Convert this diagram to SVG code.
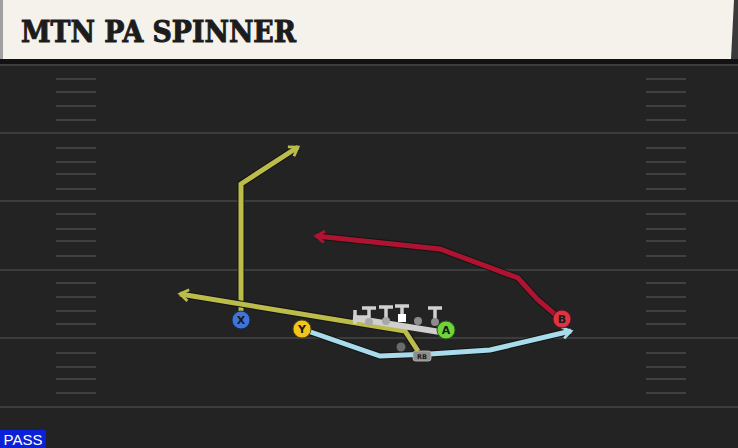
<svg xmlns="http://www.w3.org/2000/svg" width="738" height="448" viewBox="0 0 738 448">
<defs>
<style>
.yard{stroke:#3c3c3c;stroke-width:2}
.hash{stroke:#404040;stroke-width:2}
.route{fill:none;stroke-width:5;stroke-linejoin:miter;stroke-linecap:butt}
.under{fill:none;stroke:#141414;stroke-width:7;stroke-linejoin:miter}
.lbl{font-family:"DejaVu Sans","Liberation Sans",sans-serif;font-weight:bold;font-size:11px;fill:#1a1a1a;text-anchor:middle}
.ol{stroke:#d0d0d0;stroke-width:3.5;fill:none}
</style>
<marker id="ay" viewBox="0 0 10 10" refX="7" refY="5" markerWidth="2.8" markerHeight="2.8" orient="auto" markerUnits="strokeWidth">
<path d="M1,1 L7,5 L1,9" fill="none" stroke="#bcbc4a" stroke-width="2"/>
</marker>
<marker id="ar" viewBox="0 0 10 10" refX="7" refY="5" markerWidth="2.8" markerHeight="2.8" orient="auto" markerUnits="strokeWidth">
<path d="M1,1 L7,5 L1,9" fill="none" stroke="#ae1431" stroke-width="2"/>
</marker>
<marker id="ab" viewBox="0 0 10 10" refX="7" refY="5" markerWidth="2.8" markerHeight="2.8" orient="auto" markerUnits="strokeWidth">
<path d="M1,1 L7,5 L1,9" fill="none" stroke="#a8dcea" stroke-width="2"/>
</marker>
</defs>

<rect x="0" y="0" width="738" height="448" fill="#232323"/>

<g id="field">
<line class="yard" x1="0" y1="65" x2="738" y2="65"/>
<line class="yard" x1="0" y1="133" x2="738" y2="133"/>
<line class="yard" x1="0" y1="201" x2="738" y2="201"/>
<line class="yard" x1="0" y1="270" x2="738" y2="270"/>
<line class="yard" x1="0" y1="338" x2="738" y2="338"/>
<line class="yard" x1="0" y1="407" x2="738" y2="407"/>
<g class="hash">
<path d="M56,79H96M56,92H96M56,106H96M56,120H96M56,148H96M56,162H96M56,174H96M56,189H96M56,214H96M56,229H96M56,241H96M56,256H96M56,283H96M56,297H96M56,311H96M56,324H96M56,353H96M56,367H96M56,379H96M56,393H96"/>
<path d="M646,79H686M646,92H686M646,106H686M646,120H686M646,148H686M646,162H686M646,174H686M646,189H686M646,214H686M646,229H686M646,241H686M646,256H686M646,283H686M646,297H686M646,311H686M646,324H686M646,353H686M646,367H686M646,379H686M646,393H686"/>
</g>
</g>

<g id="header">
<rect x="0" y="59" width="738" height="5" fill="#121212"/>
<rect x="0" y="0" width="738" height="59" fill="#f4f2eb"/>
<rect x="0" y="0" width="3" height="59" fill="#a0a0a0"/>
<path d="M734,0 L738,0 L738,59 L731,59 Z" fill="#3a3a3a"/>
<text x="21" y="42" font-family="'DejaVu Serif','Liberation Serif',serif" font-weight="bold" font-size="29" fill="#1c1c1c" stroke="#1c1c1c" stroke-width="1" textLength="275" lengthAdjust="spacingAndGlyphs">MTN PA SPINNER</text>
</g>

<g id="connectors">
<polyline class="under" points="241,320 241,184 298,147"/>
<polyline class="route" stroke="#bcbc4a" points="241,320 241,184 298,147" marker-end="url(#ay)"/>
<polyline class="under" points="418,351 405,331 180,294"/>
<polyline class="route" stroke="#bcbc4a" points="418,351 405,331 180,294" marker-end="url(#ay)"/>
<polyline class="under" points="557,316 537,299 518,278 440,249 316,236"/>
<polyline class="route" stroke="#ae1431" points="557,316 537,299 518,278 440,249 316,236" marker-end="url(#ar)"/>
<polyline class="under" points="302,329 380,356 430,354 490,350 571,331"/>
<polyline class="route" stroke="#a8dcea" points="302,329 380,356 430,354 490,350 571,331" marker-end="url(#ab)"/>
</g>

<g id="line">
<line x1="353" y1="318" x2="440" y2="332" stroke="#cfcfcf" stroke-width="6"/>
<path class="ol" d="M355,310V324M355,317H369M369,320V308M362,308H376M386,319V307M379,307H393M402,316V306M395,306H409M435,320V308M428,308H442"/>
<circle cx="369" cy="322" r="4" fill="#a8a8a8"/>
<circle cx="386" cy="321" r="4" fill="#a8a8a8"/>
<rect x="398" y="314" width="8" height="8" fill="#ffffff"/>
<circle cx="418" cy="321" r="4" fill="#8c8c8c"/>
<circle cx="435" cy="322" r="4" fill="#8c8c8c"/>
</g>

<g id="ghost"><circle cx="401" cy="347" r="4.5" fill="#6a6a6a"/></g>

<g id="RB">
<rect x="413" y="351" width="18" height="10" rx="2.5" fill="#8e8e8e" stroke="#bdbdbd" stroke-width="0.8"/>
<text x="422" y="359" font-family="'DejaVu Sans','Liberation Sans',sans-serif" font-weight="bold" font-size="6.5" fill="#1a1a1a" text-anchor="middle">RB</text>
</g>

<g id="X"><circle cx="241" cy="320" r="9" fill="#3f74d8" stroke="#1a2a55" stroke-width="1"/><text class="lbl" x="241" y="324">X</text></g>
<g id="Y"><circle cx="302" cy="329" r="9" fill="#f2c51c" stroke="#5a4a10" stroke-width="1"/><text class="lbl" x="302" y="333">Y</text></g>
<g id="A"><circle cx="446" cy="330" r="9" fill="#6fd43a" stroke="#2d5a17" stroke-width="1"/><text class="lbl" x="446" y="334">A</text></g>
<g id="B"><circle cx="562" cy="319" r="9" fill="#dc3444" stroke="#5a1418" stroke-width="1"/><text class="lbl" x="562" y="323">B</text></g>

<g id="pass">
<rect x="0" y="430" width="46" height="18" fill="#0b21d9"/>
<text x="23" y="445" font-family="'Liberation Sans','DejaVu Sans',sans-serif" font-size="15" fill="#ffffff" text-anchor="middle">PASS</text>
</g>
</svg>
